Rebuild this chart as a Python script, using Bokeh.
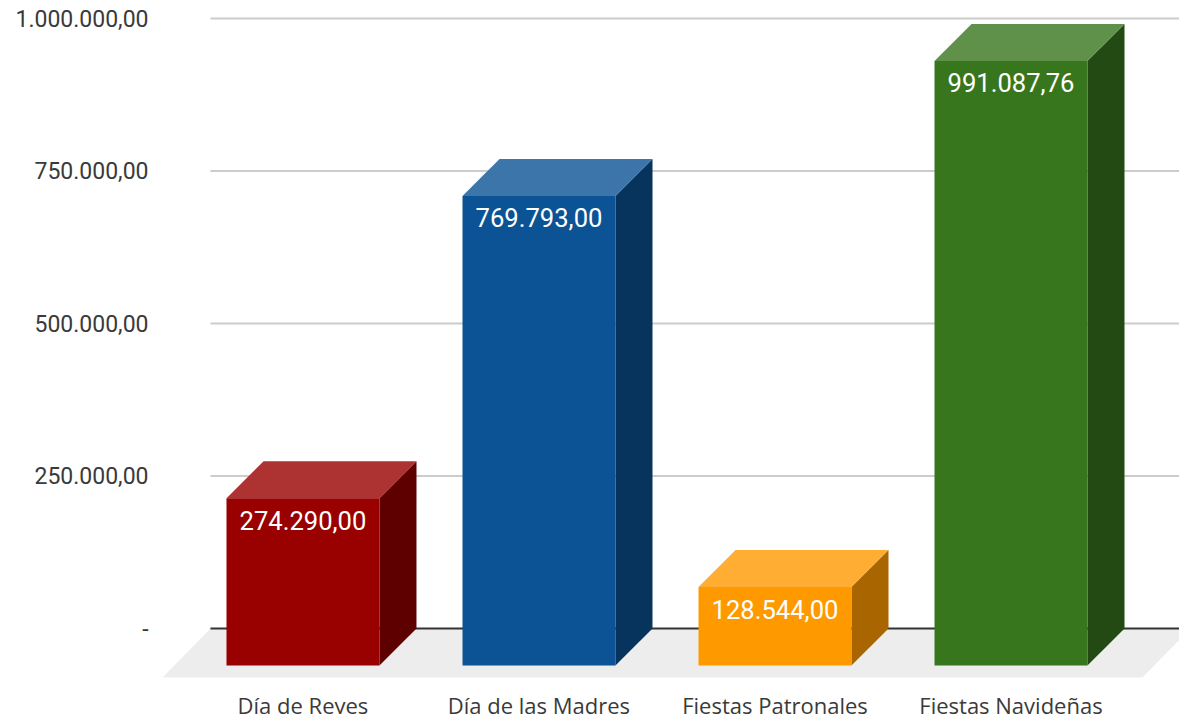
from bokeh.plotting import figure
from bokeh.embed import file_html
from bokeh.resources import INLINE
from bokeh.models import FixedTicker, ColumnDataSource
from bokeh.core.properties import value

categories = ["Día de Reyes", "Día de las Madres", "Fiestas Patronales", "Fiestas Navideñas"]
values = [274290.00, 769793.00, 128544.00, 991087.76]
value_labels = ["274.290,00", "769.793,00", "128.544,00", "991.087,76"]
front_colors = ["#990000", "#0B5394", "#FF9900", "#38761D"]
top_colors = ["#AD3333", "#3C75A9", "#FFAD33", "#60914A"]
side_colors = ["#5F0000", "#07345C", "#A86500", "#234A12"]
y_ticks = [0, 250000, 500000, 750000, 1000000]
y_tick_labels = ["-", "250.000,00", "500.000,00", "750.000,00", "1.000.000,00"]

HALF = 0.324
DX = 0.157
DY = 60656
FLOOR_LEFT = -0.595
FLOOR_RIGHT = 3.557
FLOOR_DEPTH_X = 0.2034
FLOOR_DEPTH_Y = 80328
GRID_X0 = -0.392
GRID_X1 = 3.72

p = figure(width=1179, height=714, output_backend="svg", toolbar_location=None,
           x_range=(-0.646, 3.714), y_range=(-85246, 1029508),
           frame_width=1029, frame_height=680,
           min_border_left=150, min_border_right=0, min_border_top=0, min_border_bottom=34)
p.outline_line_color = None
p.grid.visible = False

p.xaxis.ticker = FixedTicker(ticks=list(range(len(categories))))
p.xaxis.major_label_overrides = {i: c for i, c in enumerate(categories)}
p.yaxis.ticker = FixedTicker(ticks=y_ticks)
p.yaxis.major_label_overrides = dict(zip(y_ticks, y_tick_labels))
for ax, size, font, standoff in ((p.xaxis, "22px", "Open Sans", 9), (p.yaxis, "23px", "Roboto", 2)):
    ax.axis_line_color = None
    ax.major_tick_line_color = None
    ax.minor_tick_line_color = None
    ax.major_tick_in = 0
    ax.major_tick_out = 0
    ax.major_label_text_font = font
    ax.major_label_text_font_size = size
    ax.major_label_text_color = "#3A3A3A"
    ax.major_label_standoff = standoff

# gridlines above zero
gt = y_ticks[1:]
p.segment(x0=[GRID_X0] * len(gt), x1=[GRID_X1] * len(gt), y0=gt, y1=gt, line_color="#CCCCCC", line_width=2)

# floor
p.patch(x=[FLOOR_LEFT, FLOOR_LEFT + FLOOR_DEPTH_X, FLOOR_RIGHT + FLOOR_DEPTH_X, FLOOR_RIGHT],
        y=[-FLOOR_DEPTH_Y, 0, 0, -FLOOR_DEPTH_Y], fill_color="#EDEDED", line_color=None)
p.segment(x0=[GRID_X0], x1=[GRID_X1], y0=[0], y1=[0], line_color="#333333", line_width=2)

xs_front, ys_front, xs_top, ys_top, xs_side, ys_side = [], [], [], [], [], []
for i, v in enumerate(values):
    l, r, t, b = i - HALF, i + HALF, v - DY, -DY
    xs_front.append([l, r, r, l]); ys_front.append([b, b, t, t])
    xs_top.append([l, r, r + DX, l + DX]); ys_top.append([t, t, v, v])
    xs_side.append([r, r + DX, r + DX, r]); ys_side.append([b, 0, v, t])

p.patches(xs_side, ys_side, fill_color=side_colors, line_color=None)
p.patches(xs_top, ys_top, fill_color=top_colors, line_color=None)
p.patches(xs_front, ys_front, fill_color=front_colors, line_color=None)

src = ColumnDataSource(dict(x=list(range(len(values))), y=[v - DY for v in values], t=value_labels))
p.text(x="x", y="y", text="t", source=src, text_color="#FFFFFF", text_align="center",
       text_baseline="middle", y_offset=22, text_font=value("Roboto"), text_font_size="25.6px")

open("out.html", "w").write(file_html(p, INLINE))
